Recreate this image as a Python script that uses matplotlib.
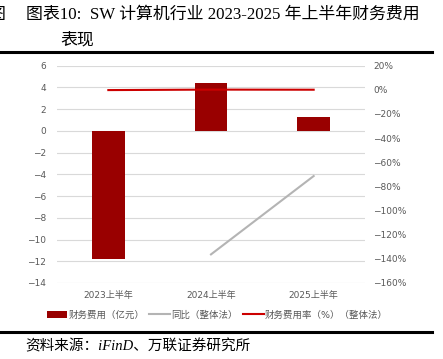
import matplotlib
matplotlib.use("Agg")
import matplotlib.pyplot as plt
from matplotlib.ticker import FuncFormatter

plt.rcParams['font.family'] = ['DejaVu Sans', 'Noto Sans CJK SC']
plt.rcParams['axes.unicode_minus'] = True

# 数据
periods = ["2023上半年", "2024上半年", "2025上半年"]
expense = [-11.8, 4.4, 1.25]          # 财务费用（亿元）
yoy = [None, -136.3, -71.4]           # 同比（整体法），%
rate = [-0.2, 0.2, 0.1]               # 财务费用率（%）（整体法）

title_1 = "图表10:  SW 计算机行业 2023-2025 年上半年财务费用"
title_2 = "表现"
source = "资料来源：iFinD、万联证券研究所"

bar_color = "#990000"
rate_color = "#cc0000"
yoy_color = "#b4b4b4"
tick_color = "#595959"

fig = plt.figure(figsize=(4.43, 3.59), dpi=100)
ax = fig.add_axes([57 / 443, 1 - 283 / 359, 308 / 443, (283 - 65.7) / 359])
ax2 = ax.twinx()

x = list(range(len(periods)))
ax.bar(x, expense, width=0.32, color=bar_color, zorder=2, label="财务费用（亿元）")

xy = [(i, v) for i, v in zip(x, yoy) if v is not None]
ax2.plot([p[0] for p in xy], [p[1] for p in xy], color=yoy_color, lw=1.5,
         label="同比（整体法）", zorder=3)
ax2.plot(x, rate, color=rate_color, lw=1.5, label="财务费用率（%）（整体法）", zorder=4)

ax.set_xlim(-0.5, 2.5)
ax.set_ylim(-14, 6)
ax.set_yticks(range(-14, 7, 2))
ax2.set_ylim(-160, 20)
ax2.set_yticks(range(-160, 21, 20))
ax2.yaxis.set_major_formatter(FuncFormatter(lambda v, p: f"{v:.0f}%".replace("-", "\u2212")))

ax.set_xticks(x)
ax.set_xticklabels(periods)
ax.grid(axis="y", color="#d9d9d9", lw=0.8, zorder=0)
ax.set_axisbelow(True)
for a in (ax, ax2):
    for s in a.spines.values():
        s.set_visible(False)
    a.tick_params(length=0, labelsize=6.5, colors=tick_color)
ax.tick_params(axis="y", pad=8)
ax.tick_params(axis="x", pad=6)
ax2.tick_params(axis="y", pad=6)
# 折线放在柱子上面
ax.patch.set_visible(False)
ax2.set_zorder(ax.get_zorder() + 1)
ax2.patch.set_visible(False)

h1, l1 = ax.get_legend_handles_labels()
h2, l2 = ax2.get_legend_handles_labels()
leg = fig.legend(h1 + h2, l1 + l2, loc="center left", bbox_to_anchor=(38 / 443, 1 - 315 / 359),
                 ncol=3, frameon=False, fontsize=6.8, handlelength=2.2,
                 handletextpad=0.15, columnspacing=0.5)
for t in leg.get_texts():
    t.set_color(tick_color)

# 标题与来源
serif = ['Liberation Serif', 'Noto Sans CJK SC']
fig.text(26 / 443, 1 - 15 / 359, title_1, fontsize=12.2, family=serif, va="center", ha="left")
fig.text(60 / 443, 1 - 41 / 359, title_2, fontsize=12.2, family=serif, va="center", ha="left")
fig.text(5 / 443, 1 - 15 / 359, "图", fontsize=12.2, family=serif, va="center", ha="right")
fig.add_artist(plt.Line2D([0, 432 / 443], [1 - 52 / 359] * 2, color="black", lw=2.2))
fig.add_artist(plt.Line2D([0, 432 / 443], [1 - 332 / 359] * 2, color="black", lw=2.2))
fig.text(25 / 443, 1 - 346 / 359, source, fontsize=10.5, family=serif, style="italic",
         va="center", ha="left")

fig.savefig("out.png", dpi=100)
